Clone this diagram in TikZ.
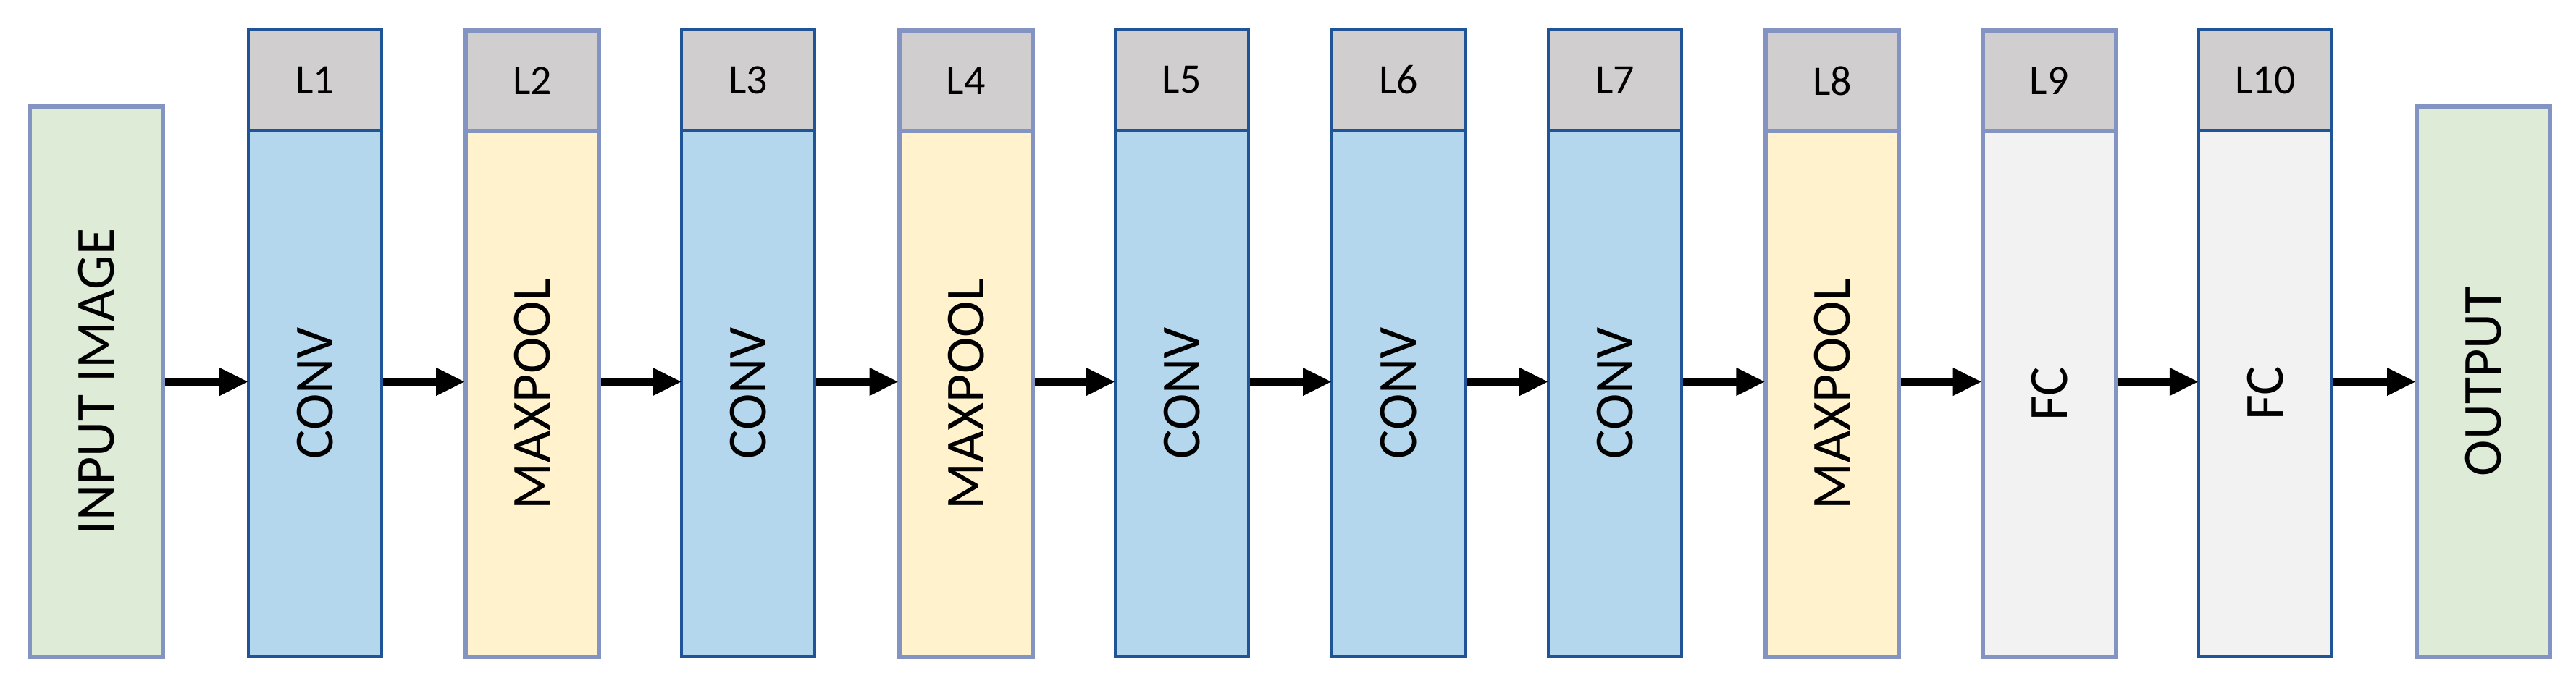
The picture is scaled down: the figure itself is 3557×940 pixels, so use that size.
\documentclass[tikz,border=0pt]{standalone}
\usepackage{fontspec}
\setmainfont{Carlito}
\usetikzlibrary{arrows.meta}
\definecolor{convc}{HTML}{B4D7ED}
\definecolor{poolc}{HTML}{FFF2CC}
\definecolor{fcc}{HTML}{F2F2F2}
\definecolor{ioc}{HTML}{DDEBD7}
\definecolor{hdc}{HTML}{D0CECF}
\definecolor{dkb}{HTML}{1F5597}
\definecolor{ltb}{HTML}{8494C2}
\tikzset{
  box/.style={draw, rectangle, inner sep=0pt, minimum width=184pt, anchor=north west},
  body/.style={box, minimum height=727pt, font=\fontsize{76}{86}\selectfont},
  hdr/.style={box, fill=hdc, minimum height=139pt, font=\fontsize{58}{66}\selectfont},
  dk/.style={draw=dkb, line width=4pt},
  lt/.style={draw=ltb, line width=6pt},
  io/.style={draw=ltb, line width=6pt, fill=ioc, rectangle, inner sep=0pt, minimum width=184pt, minimum height=761pt, anchor=north west, font=\fontsize{76}{86}\selectfont},
  arr/.style={line width=10pt, -{Triangle[length=40pt,width=36pt]}, shorten >=-2pt}
}
\begin{document}
\begin{tikzpicture}[x=1pt,y=-1pt]
\useasboundingbox (0,0) rectangle (3557,940);
\node[io] (in) at (38,144) {\rotatebox{90}{INPUT IMAGE}};
\foreach \i/\t/\c/\s in {1/CONV/convc/dk,2/MAXPOOL/poolc/lt,3/CONV/convc/dk,4/MAXPOOL/poolc/lt,5/CONV/convc/dk,6/CONV/convc/dk,7/CONV/convc/dk,8/MAXPOOL/poolc/lt,9/FC/fcc/lt,10/FC/fcc/dk}{
  \pgfmathsetmacro\xx{341+299.2*(\i-1)}
  \node[body,\s,fill=\c] (b\i) at (\xx,178) {\rotatebox{90}{\t}};
  \node[hdr,\s] (h\i) at (\xx,39) {L\i};
}
\node[io] (out) at (3334,144) {\rotatebox{90}{OUTPUT}};
\draw[arr] (in.east) -- (b1.west |- in.east);
\foreach \a/\b in {1/2,2/3,3/4,4/5,5/6,6/7,7/8,8/9,9/10}{
  \draw[arr] (b\a.east |- in.east) -- (b\b.west |- in.east);
}
\draw[arr] (b10.east |- in.east) -- (out.west);
\end{tikzpicture}
\end{document}
